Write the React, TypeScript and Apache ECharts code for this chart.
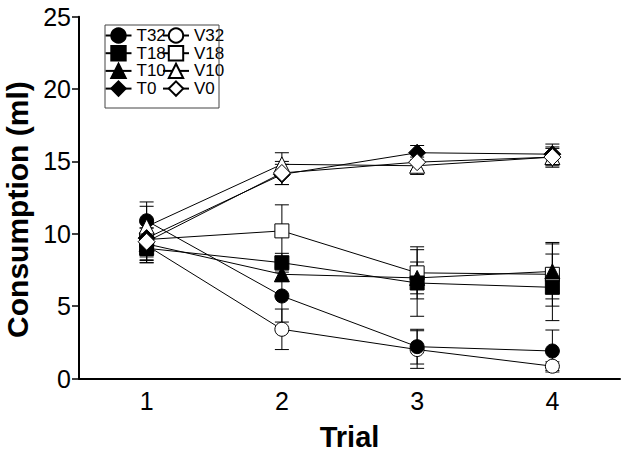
import React, { useEffect, useRef } from "react";
import * as echarts from "echarts";

const trials = ["1", "2", "3", "4"];
const yTicks = [0, 5, 10, 15, 20, 25];

const T32 = [10.9, 5.7, 2.2, 1.9];
const T32err = [1.3, 1.8, 1.2, 1.45];
const V32 = [9.2, 3.4, 2.0, 0.85];
const V32err = [1.2, 1.4, 1.3, 0.3];
const T18 = [9.0, 8.0, 6.6, 6.3];
const T18err = [1.0, 0.65, 2.3, 2.3];
const V18 = [9.6, 10.2, 7.3, 7.2];
const V18err = [1.2, 1.8, 1.8, 2.2];
const T10 = [9.3, 7.2, 6.95, 7.4];
const T10err = [1.1, 0.5, 1.1, 1.9];
const V10 = [10.5, 14.8, 14.7, 15.3];
const V10err = [1.4, 0.8, 0.6, 0.7];
const T0 = [9.7, 14.1, 15.6, 15.5];
const T0err = [1.2, 0.7, 0.5, 0.7];
const V0 = [9.45, 14.2, 14.95, 15.3];
const V0err = [1.3, 0.8, 0.6, 0.6];

const tNames = ["T32", "T18", "T10", "T0"];
const vNames = ["V32", "V18", "V10", "V0"];

const FONT = "'Liberation Sans', Arial, sans-serif";

type Grp = { name: string; values: number[]; errs: number[]; symbol: string; size: number; filled: boolean };

const groups: Grp[] = [
  { name: "V32", values: V32, errs: V32err, symbol: "circle", size: 14, filled: false },
  { name: "T32", values: T32, errs: T32err, symbol: "circle", size: 14, filled: true },
  { name: "V18", values: V18, errs: V18err, symbol: "rect", size: 14, filled: false },
  { name: "T18", values: T18, errs: T18err, symbol: "rect", size: 14, filled: true },
  { name: "T10", values: T10, errs: T10err, symbol: "triangle", size: 15, filled: true },
  { name: "V10", values: V10, errs: V10err, symbol: "triangle", size: 15, filled: false },
  { name: "T0", values: T0, errs: T0err, symbol: "diamond", size: 17, filled: true },
  { name: "V0", values: V0, errs: V0err, symbol: "diamond", size: 17, filled: false },
];

export default function App() {
  const ref = useRef<HTMLDivElement>(null);
  useEffect(() => {
    if (!ref.current) return;
    const chart = echarts.init(ref.current, undefined, { renderer: "svg" });

    const errSeries = groups.map((g) => ({
      type: "custom",
      name: g.name + " SEM",
      z: 1,
      silent: true,
      data: g.values.map((v, i) => [i, v, g.errs[i]]),
      encode: { x: 0, y: 1 },
      renderItem: (params: any, api: any) => {
        const x = api.value(0);
        const y = api.value(1);
        const e = api.value(2);
        const top = api.coord([x, y + e]);
        const bot = api.coord([x, y - e]);
        const hw = 7;
        const style = { stroke: "#000", lineWidth: 1, fill: "none" };
        return {
          type: "group",
          children: [
            { type: "line", shape: { x1: top[0], y1: top[1], x2: bot[0], y2: bot[1] }, style },
            { type: "line", shape: { x1: top[0] - hw, y1: top[1], x2: top[0] + hw, y2: top[1] }, style },
            { type: "line", shape: { x1: bot[0] - hw, y1: bot[1], x2: bot[0] + hw, y2: bot[1] }, style },
          ],
        };
      },
    }));

    const lineSeries = groups.map((g) => ({
      type: "line",
      name: g.name,
      z: 3,
      data: g.values,
      symbol: g.symbol,
      symbolSize: g.size,
      showSymbol: true,
      lineStyle: { color: "#000", width: 1 },
      itemStyle: g.filled
        ? { color: "#000", borderColor: "#000", borderWidth: 1 }
        : { color: "#fff", borderColor: "#000", borderWidth: 1 },
      emphasis: { disabled: true },
    }));

    const legendBase = {
      orient: "vertical",
      top: 27,
      itemWidth: 26,
      itemHeight: 18,
      itemGap: 0.7,
      padding: 0,
      selectedMode: false,
      textStyle: { fontFamily: FONT, fontSize: 17, color: "#000" },
    };

    chart.setOption({
      animation: false,
      backgroundColor: "#fff",
      grid: { left: 79, right: 9, top: 16.7, bottom: 75.5, containLabel: false, outerBoundsMode: "none" },
      legend: [
        { ...legendBase, left: 104.5, data: tNames },
        { ...legendBase, left: 162, data: vNames },
      ],
      graphic: [
        {
          type: "rect",
          shape: { x: 105, y: 25, width: 114, height: 83 },
          style: { fill: "none", stroke: "#444", lineWidth: 1 },
          z: 10,
          silent: true,
        },
      ],
      xAxis: {
        type: "category",
        data: trials,
        boundaryGap: true,
        name: "Trial",
        nameLocation: "middle",
        nameGap: 44,
        nameTextStyle: { fontFamily: FONT, fontSize: 29, fontWeight: "bold", color: "#000" },
        axisLine: { lineStyle: { color: "#000", width: 2 } },
        axisTick: { alignWithLabel: true, length: 6, lineStyle: { color: "#000", width: 1.5 } },
        axisLabel: { fontFamily: FONT, fontSize: 25, color: "#000", margin: 10 },
        splitLine: { show: false },
      },
      yAxis: {
        type: "value",
        min: yTicks[0],
        max: yTicks[yTicks.length - 1],
        interval: 5,
        name: "Consumption (ml)",
        nameLocation: "middle",
        nameGap: 46,
        nameTextStyle: { fontFamily: FONT, fontSize: 30, fontWeight: "bold", color: "#000", padding: [0, 24, 0, 0] },
        axisLine: { show: true, lineStyle: { color: "#000", width: 2 } },
        axisTick: { show: true, length: 7, lineStyle: { color: "#000", width: 1.5 } },
        axisLabel: { fontFamily: FONT, fontSize: 25, color: "#000", margin: 8 },
        splitLine: { show: false },
      },
      series: [...errSeries, ...lineSeries],
    });
    return () => chart.dispose();
  }, []);
  return (
    <div
      ref={ref}
      style={{ position: "fixed", left: 0, top: 0, width: 629, height: 454, background: "#fff" }}
    />
  );
}
